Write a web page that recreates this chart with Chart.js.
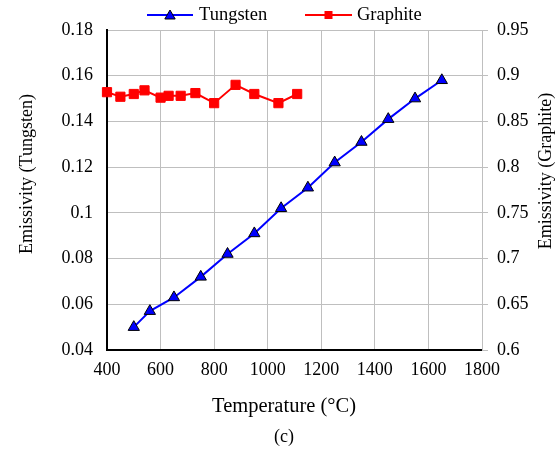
<!DOCTYPE html>
<html>
<head>
<meta charset="utf-8">
<script src="https://cdn.jsdelivr.net/npm/chart.js@4.4.0/dist/chart.umd.min.js"></script>
<style>
  html, body { margin: 0; padding: 0; background: #fff; }
</style>
</head>
<body>
<canvas id="emissivityChart" width="560" height="452"></canvas>
<script>
// temperature (°C) vs emissivity, two materials on separate y axes
const tungstenTemps = [500, 560, 650, 750, 850, 950, 1050, 1150, 1250, 1350, 1450, 1550, 1650];
const tungstenEmissivity = [0.050, 0.057, 0.063, 0.072, 0.082, 0.091, 0.102, 0.111, 0.122, 0.131, 0.141, 0.150, 0.158];

const graphiteTemps = [400, 450, 500, 540, 600, 630, 675, 730, 800, 880, 950, 1040, 1110];
const graphiteEmissivity = [0.882, 0.877, 0.880, 0.884, 0.876, 0.878, 0.878, 0.881, 0.870, 0.890, 0.880, 0.870, 0.880];

const tempTicks = [400, 600, 800, 1000, 1200, 1400, 1600, 1800];
const tungstenTicks = [0.04, 0.06, 0.08, 0.1, 0.12, 0.14, 0.16, 0.18];
const graphiteTicks = [0.6, 0.65, 0.7, 0.75, 0.8, 0.85, 0.9, 0.95];

const serif = "'Liberation Serif', 'Times New Roman', serif";
Chart.defaults.font.family = serif;
Chart.defaults.color = "#000";

const toPoints = (xs, ys) => xs.map((x, i) => ({ x: x, y: ys[i] }));
const fixedTicks = (values) => (scale) => { scale.ticks = values.map(v => ({ value: v })); };
const plainLabel = (v) => String(+Number(v).toFixed(2));

function triangle(ctx, x, y, r) {
    ctx.beginPath();
    ctx.moveTo(x, y - r);
    ctx.lineTo(x + r * 0.866, y + r * 0.5);
    ctx.lineTo(x - r * 0.866, y + r * 0.5);
    ctx.closePath();
}

// legend (line + marker), rotated axis titles, x title and caption
const extraText = {
    id: "extraText",
    afterDraw(chart) {
        const ctx = chart.ctx;
        const area = chart.chartArea;
        ctx.save();
        ctx.fillStyle = "#000";

        // legend
        ctx.font = "18.5px " + serif;
        ctx.textBaseline = "middle";
        ctx.textAlign = "left";
        const ly = 15;

        ctx.strokeStyle = "#0000ff";
        ctx.lineWidth = 2;
        ctx.beginPath(); ctx.moveTo(147, ly); ctx.lineTo(193, ly); ctx.stroke();
        triangle(ctx, 170, ly + 1, 6);
        ctx.fillStyle = "#0000ff"; ctx.fill();
        ctx.strokeStyle = "#000"; ctx.lineWidth = 1; ctx.stroke();
        ctx.fillStyle = "#000";
        ctx.fillText(chart.data.datasets[0].label, 199, ly);

        ctx.strokeStyle = "#ff0000";
        ctx.lineWidth = 2;
        ctx.beginPath(); ctx.moveTo(305, ly); ctx.lineTo(352, ly); ctx.stroke();
        ctx.fillStyle = "#ff0000";
        ctx.fillRect(324.5, ly - 4, 8, 8);
        ctx.fillStyle = "#000";
        ctx.fillText(chart.data.datasets[1].label, 357, ly);

        // y titles
        ctx.font = "18px " + serif;
        ctx.textAlign = "center";
        ctx.save();
        ctx.translate(27, 174);
        ctx.rotate(-Math.PI / 2);
        ctx.fillText("Emissivity (Tungsten)", 0, 0);
        ctx.restore();

        ctx.save();
        ctx.translate(546, 171);
        ctx.rotate(-Math.PI / 2);
        ctx.fillText("Emissivity (Graphite)", 0, 0);
        ctx.restore();

        // x title and caption
        ctx.font = "20.5px " + serif;
        ctx.fillText("Temperature (°C)", 284, area.bottom + 57);
        ctx.font = "18px " + serif;
        ctx.fillText("(c)", 284, area.bottom + 87);
        ctx.restore();
    }
};

const ctx = document.getElementById("emissivityChart").getContext("2d");

new Chart(ctx, {
    type: "line",
    data: {
        datasets: [
            {
                label: "Tungsten",
                data: toPoints(tungstenTemps, tungstenEmissivity),
                yAxisID: "y",
                borderColor: "#0000ff",
                borderWidth: 2,
                pointStyle: "triangle",
                pointRadius: 6.5,
                pointBackgroundColor: "#0000ff",
                pointBorderColor: "#000",
                pointBorderWidth: 1,
                clip: false
            },
            {
                label: "Graphite",
                data: toPoints(graphiteTemps, graphiteEmissivity),
                yAxisID: "y2",
                borderColor: "#ff0000",
                borderWidth: 2,
                pointStyle: "rect",
                pointRadius: 6.5,
                pointBackgroundColor: "#ff0000",
                pointBorderColor: "#ff0000",
                pointBorderWidth: 1,
                clip: false
            }
        ]
    },
    options: {
        responsive: false,
        animation: false,
        devicePixelRatio: 1,
        layout: { padding: { top: 30, bottom: 62, left: 0, right: 0 } },
        scales: {
            x: {
                type: "linear",
                min: 400,
                max: 1800,
                afterBuildTicks: fixedTicks(tempTicks),
                afterFit: (s) => { s.height = 40; },
                ticks: { font: { size: 18 }, padding: 9, maxRotation: 0, callback: plainLabel },
                grid: { color: "#bfbfbf", drawTicks: false },
                border: { color: "#000", width: 2 }
            },
            y: {
                position: "left",
                min: 0.04,
                max: 0.18,
                afterBuildTicks: fixedTicks(tungstenTicks),
                afterFit: (s) => { s.width = 107; },
                ticks: { font: { size: 18 }, padding: 14, callback: plainLabel },
                grid: { color: "#bfbfbf", drawTicks: false },
                border: { color: "#000", width: 2 }
            },
            y2: {
                position: "right",
                min: 0.6,
                max: 0.95,
                afterBuildTicks: fixedTicks(graphiteTicks),
                afterFit: (s) => { s.width = 78; },
                ticks: { font: { size: 18 }, padding: 9, callback: plainLabel },
                grid: { drawOnChartArea: false, drawTicks: true, tickLength: 6, color: "#bfbfbf" },
                border: { color: "#bfbfbf", width: 1 }
            }
        },
        plugins: {
            legend: { display: false },
            tooltip: { enabled: false }
        }
    },
    plugins: [extraText]
});
</script>
</body>
</html>
